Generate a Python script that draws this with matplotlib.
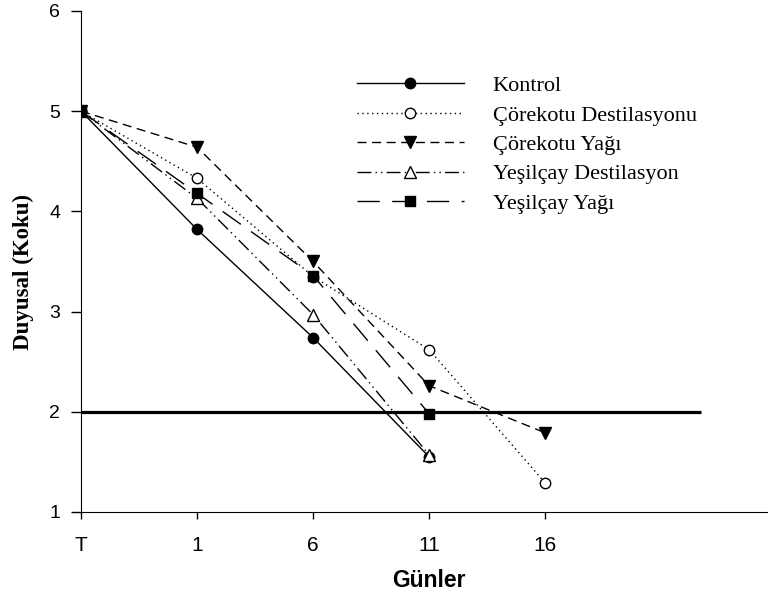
import matplotlib
matplotlib.use('Agg')
from matplotlib import pyplot as plt
import numpy as np

gunler = ['T', '1', '6', '11', '16']
kontrol = [5.0, 3.82, 2.74, 1.55]
corekotu_dest = [5.0, 4.33, 3.35, 2.62, 1.29]
corekotu_yag = [5.0, 4.64, 3.50, 2.26, 1.79]
yesilcay_dest = [5.0, 4.13, 2.97, 1.57]
yesilcay_yag = [5.0, 4.18, 3.36, 1.98]
sinir = 2.0

fig = plt.figure(figsize=(7.68, 5.93), dpi=100)
ax = fig.add_axes([0.1055, 0.1366, 0.8945, 0.8449])

x = np.arange(len(gunler))
ms = 7.5
ax.plot(x[:len(kontrol)], kontrol, color='black', lw=1, ls='-',
        marker='o', ms=ms, mfc='black', mec='black', label='Kontrol')
ax.plot(x[:len(corekotu_dest)], corekotu_dest, color='black', lw=1, ls=(0, (1, 2.5)),
        marker='o', ms=ms, mfc='white', mec='black', label='Çörekotu Destilasyonu')
ax.plot(x[:len(corekotu_yag)], corekotu_yag, color='black', lw=1, ls=(0, (6.5, 4)),
        marker='v', ms=ms + 1, mfc='black', mec='black', label='Çörekotu Yağı')
ax.plot(x[:len(yesilcay_dest)], yesilcay_dest, color='black', lw=1,
        ls=(0, (10, 3, 1, 3, 1, 3)),
        marker='^', ms=ms + 1, mfc='white', mec='black', label='Yeşilçay Destilasyon')
ax.plot(x[:len(yesilcay_yag)], yesilcay_yag, color='black', lw=1, ls=(0, (16, 9)),
        marker='s', ms=ms, mfc='black', mec='black', label='Yeşilçay Yağı')

ax.hlines(sinir, 0, 5.34, colors='black', lw=2.3)

ax.set_xlim(0, 5.92)
ax.set_ylim(1, 6)
ax.set_xticks(x)
ax.set_xticklabels(gunler)
ax.set_yticks([1, 2, 3, 4, 5, 6])
for s in ['top', 'right']:
    ax.spines[s].set_visible(False)
ax.tick_params(axis='x', direction='out', length=5, width=1, labelsize=15, pad=12)
ax.tick_params(axis='y', direction='out', length=7, width=1, labelsize=14, pad=8)
for lab in ax.get_xticklabels() + ax.get_yticklabels():
    lab.set_family('Liberation Sans')

ax.set_xlabel('Günler', fontfamily='Liberation Sans', fontweight='bold', fontsize=16.5)
ax.set_ylabel('Duyusal (Koku)', fontfamily='Liberation Serif', fontweight='bold',
              fontsize=16.5)
ax.xaxis.set_label_coords(0.5066, -0.114)
ax.yaxis.set_label_coords(-0.069, 0.479)

ax.legend(loc='upper left', bbox_to_anchor=(0.4017, 0.871), frameon=False,
          prop={'family': 'Liberation Serif', 'size': 16},
          handlelength=4.8, handletextpad=1.3, labelspacing=0.4,
          borderpad=0, borderaxespad=0)

fig.savefig('out.png', dpi=100)
